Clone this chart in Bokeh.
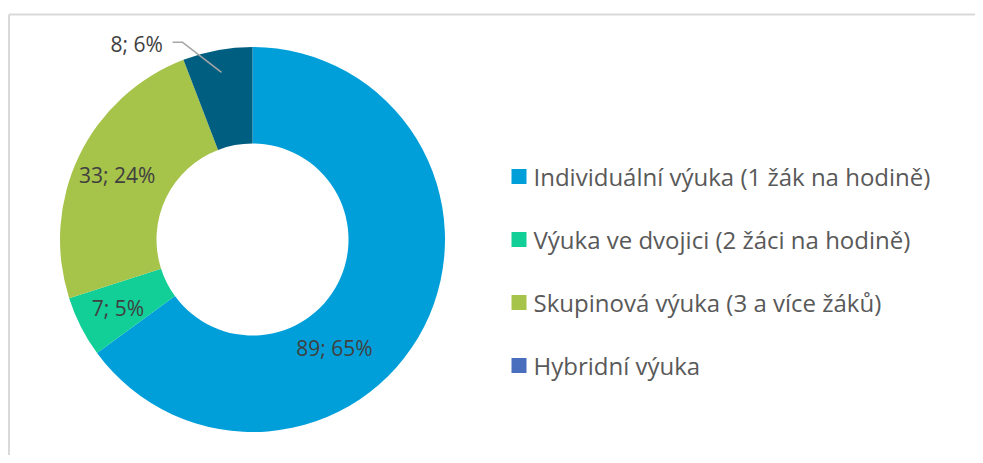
import numpy as np
from bokeh.plotting import figure
from bokeh.models import Range1d, ColumnDataSource
from bokeh.core.properties import value
from bokeh.embed import file_html
from bokeh.resources import INLINE

# ---- data ----
categories = [
    "Individuální výuka (1 žák na hodině)",
    "Výuka ve dvojici (2 žáci na hodině)",
    "Skupinová výuka (3 a více žáků)",
    "Hybridní výuka",
]
counts = [89, 7, 33, 8]
percents = [65, 5, 24, 6]
slice_colors = ["#009FD9", "#12CE97", "#A6C34A", "#005F80"]
legend_colors = ["#009FD9", "#12CE97", "#A6C34A", "#4A6EBE"]

# ---- layout ----
W, H = 975, 455
cx, cy = 252, 216
r_out, r_in = 192.5, 96
FONT = "Open Sans"

p = figure(width=W, height=H, output_backend="svg", toolbar_location=None,
           x_range=Range1d(0, W), y_range=Range1d(0, H), min_border=0,
           outline_line_color=None)
p.axis.visible = False
p.grid.visible = False
p.background_fill_color = "white"

# chart border (light gray, top and left visible)
p.line([8.5, W + 5], [441, 441], line_color="#D9D9D9", line_width=2)
p.line([8.5, 8.5], [441, -5], line_color="#D9D9D9", line_width=2)

vals = np.array(counts, dtype=float)
frac = vals / vals.sum()
ends_cum = np.cumsum(frac)
starts_cum = ends_cum - frac
start_ang = np.pi / 2 - 2 * np.pi * starts_cum
end_ang = np.pi / 2 - 2 * np.pi * ends_cum
mid_ang = (start_ang + end_ang) / 2

src = ColumnDataSource(dict(start=start_ang, end=end_ang, color=slice_colors))
p.annular_wedge(x=cx, y=cy, inner_radius=r_in, outer_radius=r_out,
                start_angle="start", end_angle="end", direction="clock",
                fill_color="color", line_color=None, source=src)

# data labels
labels = [f"{c}; {pc}%" for c, pc in zip(counts, percents)]
lab_ang = mid_ang.copy()
lab_r = np.array([136.0, 151.0, 150.0, 227.0])
lab_ang[0] = np.deg2rad(-53)
lab_ang[3] = np.deg2rad(120.7)
lx = cx + lab_r * np.cos(lab_ang)
ly = cy + lab_r * np.sin(lab_ang)
p.text(x=lx, y=ly, text=labels, text_align="center", text_baseline="middle",
       text_font=value(FONT), text_font_size="21px", text_color="#404040")

# leader line for the small slice
a_in = mid_ang[3]
p_start = (cx + 170 * np.cos(a_in), cy + 170 * np.sin(a_in))
elbow = (lx[3] + 46, ly[3] + 2)
end_pt = (lx[3] + 36, ly[3] + 2)
p.line([p_start[0], elbow[0], end_pt[0]], [p_start[1], elbow[1], end_pt[1]],
       line_color="#A6A6A6", line_width=1.5)

# legend
leg_x = 518.5
leg_y0, leg_step = 279, 63
leg_y = [leg_y0 - i * leg_step for i in range(len(categories))]
p.rect(x=[leg_x] * 4, y=leg_y, width=15, height=15, fill_color=legend_colors,
       line_color=None)
p.text(x=[leg_x + 14.5] * 4, y=leg_y, text=categories, text_align="left",
       text_baseline="middle", text_font=value(FONT), text_font_size="24px",
       text_color="#595959")

open("out.html", "w").write(file_html(p, INLINE))
